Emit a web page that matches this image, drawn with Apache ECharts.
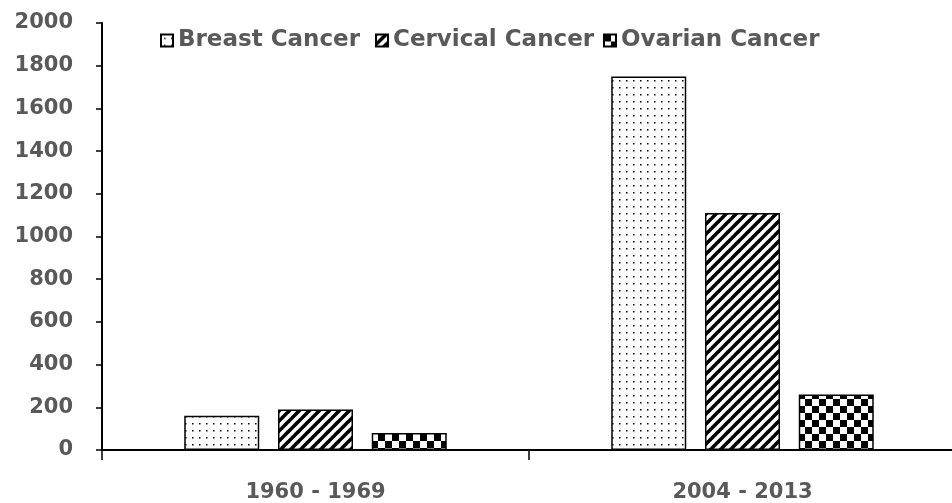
<!DOCTYPE html>
<html>
<head>
<meta charset="utf-8">
<script src="https://cdn.jsdelivr.net/npm/echarts@6/dist/echarts.min.js"></script>
<style>html,body{margin:0;padding:0;background:#fff;overflow:hidden}#c{width:960px;height:503px}</style>
</head>
<body>
<div id="c"></div>
<script>
const categories = ['1960 - 1969', '2004 - 2013'];
const seriesNames = ['Breast Cancer', 'Cervical Cancer', 'Ovarian Cancer'];
const breast = [160, 1750];
const cervical = [190, 1110];
const ovarian = [80, 260];
const yTicks = [0, 200, 400, 600, 800, 1000, 1200, 1400, 1600, 1800, 2000];

function dots() {
  const c = document.createElement('canvas'); c.width = 7; c.height = 7;
  const g = c.getContext('2d'); g.fillStyle = '#fff'; g.fillRect(0,0,7,7);
  g.fillStyle = '#000'; g.fillRect(3,3,1.5,1.5); return c;
}
function stripes() {
  const s = 10;
  const c = document.createElement('canvas'); c.width = s; c.height = s;
  const g = c.getContext('2d'); g.fillStyle = '#fff'; g.fillRect(0,0,s,s);
  g.strokeStyle = '#000'; g.lineWidth = 3.6;
  for (let k = -1; k <= 1; k++) {
    g.beginPath(); g.moveTo(k*s - 1, s + 1); g.lineTo(k*s + s + 1, -1); g.stroke();
  }
  return c;
}
function checker() {
  const s = 7;
  const c = document.createElement('canvas'); c.width = 2*s; c.height = 2*s;
  const g = c.getContext('2d'); g.fillStyle = '#fff'; g.fillRect(0,0,2*s,2*s);
  g.fillStyle = '#000'; g.fillRect(0,0,s,s); g.fillRect(s,s,s,s); return c;
}
const patterns = [dots(), stripes(), checker()];
const data = [breast, cervical, ovarian];
const legendLefts = [160, 375, 603];

const chart = echarts.init(document.getElementById('c'), null, {renderer: 'canvas'});
const txt = {color: '#595959', fontWeight: 'bold', fontFamily: 'DejaVu Sans', fontSize: 21};
chart.setOption({
  animation: false,
  backgroundColor: '#fff',
  legend: seriesNames.map((n, i) => ({
    left: legendLefts[i], top: 29, padding: 0, itemWidth: 12, itemHeight: 12,
    icon: 'rect',
    textStyle: Object.assign({}, txt, {fontSize: 23}),
    data: [n]
  })),
  grid: {left: 102, right: 4, top: 23, bottom: 52},
  xAxis: {
    type: 'category', data: categories,
    axisLine: {lineStyle: {color: '#000', width: 2}},
    axisTick: {show: true, length: 10, lineStyle: {color: '#000', width: 1.5}},
    axisLabel: Object.assign({}, txt, {margin: 32})
  },
  yAxis: {
    type: 'value', min: 0, max: 2000, interval: 200,
    axisLine: {show: true, lineStyle: {color: '#000', width: 2}},
    axisTick: {show: true, length: 6, lineStyle: {color: '#000', width: 1.5}},
    splitLine: {show: false},
    axisLabel: Object.assign({}, txt, {margin: 29, formatter: v => yTicks.includes(v) ? String(v) : ''})
  },
  series: seriesNames.map((n, i) => ({
    name: n, type: 'bar', data: data[i], barWidth: 75, barGap: '25%',
    itemStyle: {color: {image: patterns[i], repeat: 'repeat'}, borderColor: '#000', borderWidth: 1.5}
  }))
});
</script>
</body>
</html>
